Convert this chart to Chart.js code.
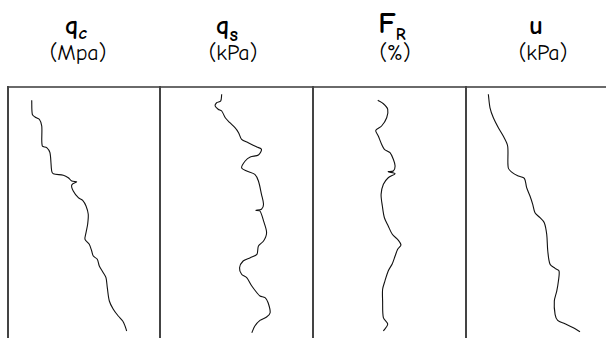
<!DOCTYPE html>
<html>
<head>
<meta charset="utf-8">
<script src="https://cdn.jsdelivr.net/npm/chart.js@4.4.0/dist/chart.umd.min.js"></script>
<style>
  html, body { margin: 0; padding: 0; background: #fff; overflow: hidden; }
  body { width: 606px; height: 338px; position: relative; }
  .lbl { position: absolute; width: 100px; text-align: center; line-height: 1;
         font-family: "Comic Sans MS", "Comic Neue", "DejaVu Sans", sans-serif; color: #000; white-space: nowrap; }
  .sym { font-weight: bold; }
  .unit { font-size: 22px; top: 42px; }
  .sub { position: relative; font-weight: bold; }
  canvas { position: absolute; }
</style>
</head>
<body>
<div class="lbl sym" style="left:26px; top:13px; font-size:26px;">q<span class="sub" style="font-size:18px; top:5px; font-style:italic;">c</span></div>
<div class="lbl unit" style="left:28px;">(Mpa)</div>

<div class="lbl sym" style="left:177px; top:13px; font-size:26px;">q<span class="sub" style="font-size:20px; top:7px;">s</span></div>
<div class="lbl unit" style="left:183px;">(kPa)</div>

<div class="lbl sym" style="left:342px; top:9px; font-size:30px;">F<span class="sub" style="font-size:17px; top:7px;">R</span></div>
<div class="lbl unit" style="left:345px;">(%)</div>

<div class="lbl sym" style="left:486px; top:12px; font-size:27px;">u</div>
<div class="lbl unit" style="left:493px;">(kPa)</div>

<canvas id="qcLog" width="154" height="254" style="left:6px; top:85px;"></canvas>
<canvas id="qsLog" width="155" height="254" style="left:158px; top:85px;"></canvas>
<canvas id="frLog" width="155" height="254" style="left:311px; top:85px;"></canvas>
<canvas id="uLog" width="154" height="254" style="left:464px; top:85px;"></canvas>

<script>
// cone resistance qc (MPa) against depth (m)
var qcDepth = [1.32, 2.71, 2.98, 3.20, 3.87, 5.85, 6.02, 6.52, 8.33, 8.60, 8.76, 9.00, 9.33, 9.40, 9.72,
  10.32, 10.98, 11.24, 11.81, 12.63, 13.62, 14.45, 15.11, 15.61, 16.27, 16.77, 17.09, 17.76, 18.42,
  18.92, 19.91, 21.23, 22.05, 22.72, 23.21, 23.71, 24.21];
var qcValues = [2.34, 2.40, 2.66, 3.09, 3.33, 3.38, 3.82, 4.14, 4.31, 4.47, 5.46, 5.95, 6.29, 6.78, 6.29,
  6.44, 6.94, 7.37, 7.70, 7.92, 7.86, 7.70, 7.60, 8.02, 8.26, 8.42, 8.81, 9.01, 9.40,
  9.67, 9.80, 10.00, 10.39, 10.88, 11.32, 11.55, 11.71];

// sleeve friction qs (kPa)
var qsDepth = [0.72, 1.39, 1.56, 1.88, 2.21, 2.38, 3.05, 3.54, 4.04, 4.53, 5.19, 5.53, 5.95, 6.18, 6.75,
  6.94, 7.34, 8.01, 8.33, 8.66, 9.33, 10.65, 11.64, 12.13, 12.23, 12.30, 13.29, 14.45, 15.28, 15.77,
  16.60, 16.93, 17.26, 17.93, 18.58, 18.92, 19.74, 20.41, 20.73, 20.90, 21.40, 22.39, 22.82, 23.15,
  23.71, 24.38];
var qsValues = [121, 119, 111, 108, 114, 121, 128, 137, 147, 154, 160, 173, 190, 199, 193,
  177, 167, 160, 170, 186, 193, 199, 203, 199, 188, 196, 203, 209, 203, 193,
  190, 177, 163, 156, 160, 170, 180, 190, 196, 206, 212, 216, 209, 196,
  186, 180];

// friction ratio FR (%)
var frDepth = [1.32, 1.66, 2.21, 3.05, 3.87, 4.30, 4.86, 5.68, 6.18, 6.52, 7.17, 7.84, 8.33, 8.40, 8.60,
  9.00, 9.65, 10.65, 11.81, 12.97, 13.79, 14.61, 15.21, 15.68, 16.10, 16.77, 17.53, 18.25, 19.25,
  20.07, 21.23, 22.89, 23.54, 24.21];
var frValues = [2.54, 2.76, 2.93, 2.89, 2.69, 2.46, 2.56, 2.69, 2.80, 3.02, 3.15, 3.22, 3.15, 2.95, 3.22,
  2.95, 2.76, 2.67, 2.72, 2.80, 2.95, 3.11, 3.35, 3.45, 3.32, 3.22, 3.11, 2.95, 2.82,
  2.73, 2.73, 2.76, 2.93, 2.76];

// pore pressure u (kPa)
var uDepth = [0.72, 2.06, 3.05, 4.04, 4.86, 5.85, 8.01, 8.50, 8.83, 9.06, 9.99, 10.81, 11.64, 12.47,
  12.97, 13.46, 14.61, 16.27, 17.59, 17.99, 18.25, 19.25, 20.24, 21.23, 22.55, 23.15, 23.48, 23.88, 24.28];
var uValues = [147, 158, 180, 213, 245, 274, 278, 305, 344, 384, 399, 421, 439, 454,
  487, 515, 531, 538, 553, 586, 612, 608, 597, 581, 586, 603, 651, 706, 750];

var maxDepth = 25;

function toPoints(values, depth) {
  return values.map(function (v, i) { return { x: v, y: depth[i] }; });
}

function drawLog(canvasId, values, depth, xMax) {
  new Chart(document.getElementById(canvasId), {
    type: 'scatter',
    data: {
      datasets: [{
        data: toPoints(values, depth),
        showLine: true,
        borderColor: '#111',
        borderWidth: 1.1,
        tension: 0.3,
        pointRadius: 0,
        pointHoverRadius: 0
      }]
    },
    options: {
      responsive: false,
      devicePixelRatio: 1,
      animation: false,
      events: [],
      layout: { autoPadding: false, padding: { left: 2, top: 2, right: 0, bottom: 0 } },
      plugins: { legend: { display: false }, tooltip: { enabled: false } },
      scales: {
        x: {
          type: 'linear', position: 'top', min: 0, max: xMax,
          ticks: { display: false, padding: 0 },
          grid: { display: false, drawTicks: false, tickLength: 0 },
          border: { display: true, color: '#6a6a6a', width: 2 }
        },
        y: {
          type: 'linear', reverse: true, min: 0, max: maxDepth,
          ticks: { display: false, padding: 0 },
          grid: { display: false, drawTicks: false, tickLength: 0 },
          border: { display: true, color: '#444', width: 2 }
        }
      }
    }
  });
}

drawLog('qcLog', qcValues, qcDepth, 15);
drawLog('qsLog', qsValues, qsDepth, 300);
drawLog('frLog', frValues, frDepth, 6);
drawLog('uLog', uValues, uDepth, 1000);
</script>
</body>
</html>
